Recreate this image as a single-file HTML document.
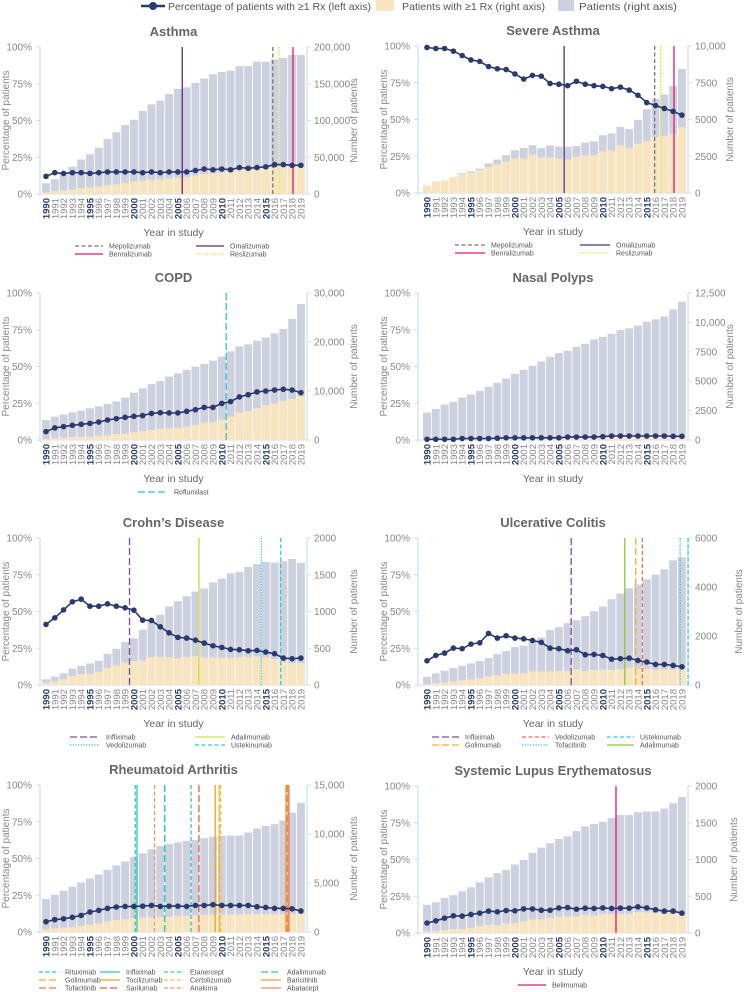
<!DOCTYPE html>
<html><head><meta charset="utf-8">
<style>
html,body{margin:0;padding:0;background:#fff;}
svg{display:block;font-family:"Liberation Sans",sans-serif;}
</style></head>
<body>
<svg id="chart" width="751" height="992" viewBox="0 0 751 992" xmlns="http://www.w3.org/2000/svg">
  <g>
    <g>
      <line x1="141" y1="6" x2="165" y2="6" stroke="#2b3a6e" stroke-width="2.5"/>
      <circle cx="153" cy="6" r="4" fill="#2b3a6e"/>
      <text x="168" y="10" font-size="10.5" fill="#555" textLength="203" lengthAdjust="spacingAndGlyphs">Percentage of patients with ≥1 Rx (left axis)</text>
    </g>
    <g>
      <rect x="376" y="0" width="18" height="11" fill="#f9e4c0"/>
      <text x="402" y="10" font-size="10.5" fill="#555" textLength="143" lengthAdjust="spacingAndGlyphs">Patients with ≥1 Rx (right axis)</text>
    </g>
    <g>
      <rect x="558" y="0" width="16" height="11" fill="#cdd0df"/>
      <text x="579" y="10" font-size="10.5" fill="#555" textLength="98" lengthAdjust="spacingAndGlyphs">Patients (right axis)</text>
    </g>
  </g>
</svg>
<script>
const years = [1990,1991,1992,1993,1994,1995,1996,1997,1998,1999,2000,2001,2002,2003,2004,2005,2006,2007,2008,2009,2010,2011,2012,2013,2014,2015,2016,2017,2018,2019];

const asthmaTotal = [14600,20000,28000,37000,47000,54000,63000,75000,84000,94000,101000,113000,122000,127000,136000,143000,145000,151000,157000,163000,166000,168000,174000,174000,180000,180000,183000,185000,189000,189000];
const asthmaRx = [2000,4000,5000,6000,8000,9000,10000,12000,13000,15000,17000,18000,19000,20000,21000,22000,23000,25000,27000,28000,29000,30000,32000,32000,33000,34000,36000,37000,37000,37000];
const asthmaPct = [12,14.5,14,14.5,14.5,14,14.5,15,15,15,15,14.5,15,14.5,15,15,15,16,17,16.5,17,16.5,18,17.5,18,18.5,20,20,19.5,19.5];
const asthmaTicks = ["0","50,000","100,000","150,000","200,000"];

const severeTotal = [500,770,860,1090,1360,1480,1660,2020,2270,2570,2910,3070,3250,3050,3230,3160,3140,3200,3430,3520,3930,4050,4500,4360,4980,5700,6410,6700,7270,8430];
const severeRx = [500,770,860,1090,1320,1390,1550,1770,1950,2140,2340,2340,2610,2410,2410,2340,2270,2480,2550,2570,2840,2890,3250,3050,3360,3520,3800,3860,4000,4480];
const severePct = [99,98.3,98.3,96.5,93.5,90.5,89.5,86,84.5,84,81,77.5,80,79.5,74.5,74,73,76,74,73,72.5,71,72,70,66.5,61.5,59.5,57.5,55.5,53];
const severeTicks = ["0","2500","5000","7500","10,000"];

const copdTotal = [4080,4760,5170,5650,5990,6460,6870,7350,7890,8640,9660,10540,11430,12040,12930,13610,14350,14970,15510,16190,17010,18100,19120,19520,20270,20950,21770,22650,24690,27760];
const copdRx = [200,340,480,610,680,680,820,950,1220,1290,1560,1840,2040,2310,2380,2520,2720,3060,3540,3610,4150,4760,5650,5920,6530,7140,7480,7960,8370,8910];
const copdPct = [5.7,8.2,9.1,10,10.7,11.3,12.2,13.6,14.5,15.4,16.1,16.6,18.1,18.6,18.4,18.4,19.5,20.6,22.2,22.2,24.9,26.1,29.3,30.8,32.7,33.3,34,34.5,34,32.2];
const copdTicks = ["0","10,000","20,000","30,000"];

const nasalTotal = [2330,2640,3010,3240,3610,3860,4180,4520,4860,5230,5630,5970,6310,6680,7070,7390,7590,7930,8180,8550,8780,9030,9350,9490,9740,10060,10260,10510,11110,11760];
const nasalRx = [12,13,15,16,36,39,42,45,58,78,84,90,95,100,106,111,152,159,164,171,202,244,252,256,263,272,277,284,278,294];
const nasalPct = [0.5,0.5,0.5,0.5,1,1,1,1,1.2,1.5,1.5,1.5,1.5,1.5,1.5,1.5,2,2,2,2,2.3,2.7,2.7,2.7,2.7,2.7,2.7,2.7,2.5,2.5];
const nasalTicks = ["0","2500","5000","7500","10,000","12,500"];

const crohnTotal = [77,113,158,222,262,294,330,425,493,584,633,751,860,955,1068,1140,1208,1271,1312,1394,1448,1520,1538,1606,1643,1674,1665,1683,1715,1661];
const crohnRx = [27,50,77,122,149,154,181,231,267,303,326,335,380,380,380,362,380,389,376,376,371,371,380,380,389,376,353,312,299,299];
const crohnPct = [41.2,45.7,51.1,56.6,58.4,53.6,53.6,55.2,53.6,52.5,50.9,44.1,43.9,39.6,35.5,32.4,31.9,30.5,28.5,26.7,25.6,24.2,24,23.3,23.5,22.4,21.3,18.3,17.9,18.3];
const crohnTicks = ["0","500","1000","1500","2000"];

const ucTotal = [340,475,584,692,787,882,977,1099,1262,1384,1547,1601,1778,1941,2239,2361,2524,2646,2809,3012,3202,3501,3731,3948,4098,4315,4505,4722,5088,5210];
const ucRx = [41,81,109,149,190,231,272,366,394,461,475,489,556,556,556,570,584,638,570,611,624,611,651,706,665,665,624,624,638,638];
const ucPct = [16.5,20.1,21.7,25.1,24.7,27.8,28.7,35.1,31.9,33.5,31.9,31.4,30.3,29,25.1,24.7,23.3,24,20.6,20.8,20.1,17.6,17.9,18.3,16.7,15.6,14,14,13.3,12.4];
const ucTicks = ["0","2000","4000","6000"];

const raTotal = [3360,3800,4210,4620,5060,5460,5870,6350,6790,7190,7640,8040,8450,8760,8990,9130,9300,9400,9570,9740,9810,9840,9840,10150,10550,10830,11000,11370,12180,13200];
const raRx = [270,370,440,480,610,750,880,1090,1220,1320,1390,1460,1490,1530,1560,1630,1660,1700,1760,1800,1800,1800,1800,1830,1830,1830,1800,1830,1870,1830];
const raPct = [7,8.4,9,10,11.3,13.6,14.7,16.1,17,17.4,17.4,17.6,18.1,17.4,17.6,17.6,17.4,18.1,18.1,18.6,18.1,18.1,18.1,18.1,17.2,16.7,16.1,16.1,15.8,14.3];
const raTicks = ["0","5,000","10,000","15,000"];

const sleTotal = [383,419,477,514,568,622,689,757,815,856,932,995,1090,1162,1221,1279,1315,1387,1450,1482,1514,1563,1604,1604,1644,1653,1653,1694,1766,1851];
const sleRx = [23,27,41,54,54,72,95,113,108,131,135,162,185,185,203,221,225,225,248,239,257,257,261,257,284,279,270,261,261,239];
const slePct = [6.8,8.3,10.1,11.7,11.5,12.6,13.5,14.9,14.4,15.3,15.1,16.4,16.4,15.5,15.5,17.1,17.3,16.2,16.9,16.7,17.1,16.7,16.9,16.9,17.8,17.1,15.8,14.9,14.9,13.5];
const sleTicks = ["0","500","1000","1500","2000"];

const pctTicks = ["0%","25%","50%","75%","100%"];

const NS = "http://www.w3.org/2000/svg";
const svg = document.getElementById("chart");
function mk(tag, attrs, parent){
  const e = document.createElementNS(NS, tag);
  for (const k in attrs) e.setAttribute(k, attrs[k]);
  (parent||svg).appendChild(e);
  return e;
}
const DASH = {solid:"", dash:"4,2.5", long:"7,3", dot:"1.2,1.5"};

function panel(cfg){
  const g = mk("g", {});
  
  
  const top = cfg.top, h = 147, bottom = top + h;
  const xL = cfg.axL, xR = cfg.axR;
  const x0 = cfg.c0, step = 8.79;
  const xc = i => x0 + i*step;
  const xYear = f => x0 + f*step;
  const yP = v => bottom - h*v/100;
  const yN = v => bottom - h*v/cfg.max;

  const t = mk("text", {x:(xL+xR)/2, y:top-11, "text-anchor":"middle", "font-size":"13", "font-weight":"bold", fill:"#666"}, g);
  t.textContent = cfg.title;
  
  

  const al = mk("line", {x1:xL, y1:top, x2:xL, y2:bottom+2, stroke:"#d3dcec", "stroke-width":"1.2"}, g);
  
  
  const ar = mk("line", {x1:xR, y1:top, x2:xR, y2:bottom, stroke:"#d3dcec", "stroke-width":"1.2"}, g);
  
  
  mk("line", {x1:xL, y1:bottom, x2:xR, y2:bottom, stroke:"#d3dcec", "stroke-width":"1"}, g);

  pctTicks.forEach((lab, i) => {
    const y = bottom - h*i/(pctTicks.length-1);
    mk("line", {x1:xL-4, y1:y, x2:xL, y2:y, stroke:"#d3dcec"}, g);
    const tx = mk("text", {x:xL-8, y:y+3.5, "text-anchor":"end", "font-size":"10", fill:"#888"}, g);
    tx.textContent = lab;
    
    
  });
  cfg.ticks.forEach((lab, i) => {
    const y = bottom - h*i/(cfg.ticks.length-1);
    mk("line", {x1:xR, y1:y, x2:xR+4, y2:y, stroke:"#d3dcec"}, g);
    const tx = mk("text", {x:xR+7, y:y+3.5, "font-size":"10", fill:"#888"}, g);
    tx.textContent = lab;
    
    
  });
  const lt = mk("text", {x:0, y:0, transform:`translate(${xL-31},${top+h/2}) rotate(-90)`, "text-anchor":"middle", "font-size":"10", fill:"#888"}, g);
  lt.textContent = "Percentage of patients";
  
  
  const rt = mk("text", {x:0, y:0, transform:`translate(${cfg.rtX},${top+h/2}) rotate(-90)`, "text-anchor":"middle", "font-size":"10", fill:"#888"}, g);
  rt.textContent = "Number of patients";
  
  

  const bw = 7.9;
  cfg.total.forEach((v, i) => {
    const b = mk("rect", {x:xc(i)-bw/2, y:yN(v), width:bw, height:bottom-yN(v), fill:"#cdd0df"}, g);
    
    
  });
  cfg.rx.forEach((v, i) => {
    const b = mk("rect", {x:xc(i)-bw/2, y:yN(v), width:bw, height:bottom-yN(v), fill:"#f9e4c0"}, g);
    
    
  });

  years.forEach((yr, i) => {
    const bold = yr % 5 === 0;
    const tx = mk("text", {x:0, y:0, transform:`translate(${xc(i)+3.5},${bottom+4}) rotate(-90)`, "text-anchor":"end", "font-size":"9.5", fill: bold ? "#2b3a6e" : "#888", "font-weight": bold ? "bold" : "normal"}, g);
    tx.textContent = yr;
    
    
  });
  if (!cfg.noXTitle) {
    const xt = mk("text", {x:(xL+xR)/2, y:bottom+42, "text-anchor":"middle", "font-size":"10.5", fill:"#666"}, g);
    xt.textContent = "Year in study";
    
    
  }

  cfg.lines.forEach(d => {
    const x = xYear(d.yr);
    const l = mk("line", {x1:x, y1:top, x2:x, y2:bottom, stroke:d.color, "stroke-width":d.w||1.3, "stroke-dasharray":DASH[d.dash]}, g);
    
    
  });

  let dStr = "";
  cfg.pct.forEach((v, i) => { dStr += (i ? "L" : "M") + xc(i).toFixed(1) + "," + yP(v).toFixed(1); });
  const pl = mk("path", {d:dStr, fill:"none", stroke:"#2b3a6e", "stroke-width":"1.6"}, g);
  
  
  cfg.pct.forEach((v, i) => {
    const c = mk("circle", {cx:xc(i), cy:yP(v), r:2.8, fill:"#2b3a6e"}, g);
    
    
  });

  const legTop = bottom + (cfg.legOff || 52);
  cfg.lines.forEach(d => {
    const lx = cfg.legX[d.col], ly = legTop + d.row*8;
    const lg = mk("g", {}, g);
    
    
    mk("line", {x1:lx, y1:ly, x2:lx+cfg.legW, y2:ly, stroke:d.color, "stroke-width":1.3, "stroke-dasharray":DASH[d.dash]}, lg);
    const tx = mk("text", {x:lx+cfg.legW+6, y:ly+2.5, "font-size":"7", fill:"#555"}, lg);
    tx.textContent = d.label;
  });
}

const L = {axL:40, axR:307, c0:46, rtX:357};
const R = {axL:418, axR:688, c0:427, rtX:733};

panel(Object.assign({}, L, {name:"asthma", title:"Asthma", top:47, max:200000, ticks:asthmaTicks, total:asthmaTotal, rx:asthmaRx, pct:asthmaPct,
  legX:[75,196], legW:28,
  lines:[
    {label:"Mepolizumab", yr:25.8, color:"#777", dash:"dash", col:0, row:0},
    {label:"Benralizumab", yr:28.1, color:"#e0186e", dash:"solid", col:0, row:1},
    {label:"Omalizumab", yr:15.5, color:"#5b2a7a", dash:"solid", col:1, row:0},
    {label:"Reslizumab", yr:26.5, color:"#d8e23a", dash:"dot", col:1, row:1, w:1.6}
  ]}));
panel(Object.assign({}, R, {name:"severe-asthma", title:"Severe Asthma", top:46, max:10000, ticks:severeTicks, total:severeTotal, rx:severeRx, pct:severePct,
  legX:[455,580], legW:30,
  lines:[
    {label:"Mepolizumab", yr:25.9, color:"#777", dash:"dash", col:0, row:0},
    {label:"Benralizumab", yr:28.1, color:"#e0186e", dash:"solid", col:0, row:1},
    {label:"Omalizumab", yr:15.6, color:"#5b2a7a", dash:"solid", col:1, row:0},
    {label:"Reslizumab", yr:26.6, color:"#d8e23a", dash:"dot", col:1, row:1, w:1.6}
  ]}));
panel(Object.assign({}, L, {name:"copd", title:"COPD", top:293, max:30000, ticks:copdTicks, total:copdTotal, rx:copdRx, pct:copdPct,
  legX:[138], legW:30,
  lines:[{label:"Roflumilast", yr:20.5, color:"#2bc4d8", dash:"long", col:0, row:0}]}));
panel(Object.assign({}, R, {name:"nasal-polyps", title:"Nasal Polyps", top:293, max:12500, ticks:nasalTicks, total:nasalTotal, rx:nasalRx, pct:nasalPct,
  legX:[455], legW:30, lines:[]}));
panel(Object.assign({}, L, {name:"crohns", title:"Crohn’s Disease", top:538, max:2000, ticks:crohnTicks, total:crohnTotal, rx:crohnRx, pct:crohnPct,
  legX:[70,195], legW:30,
  lines:[
    {label:"Infliximab", yr:9.5, color:"#7a4e96", dash:"long", col:0, row:0},
    {label:"Vedolizumab", yr:24.5, color:"#2bc4d8", dash:"dot", col:0, row:1},
    {label:"Adalimumab", yr:17.4, color:"#d2e04a", dash:"solid", col:1, row:0, w:1.6},
    {label:"Ustekinumab", yr:26.7, color:"#2bd0c8", dash:"dash", col:1, row:1}
  ]}));
panel(Object.assign({}, R, {name:"ulcerative-colitis", title:"Ulcerative Colitis", top:538, max:6000, ticks:ucTicks, total:ucTotal, rx:ucRx, pct:ucPct, rtX:742,
  legX:[432,522,607], legW:27,
  lines:[
    {label:"Infliximab", yr:16.4, color:"#7a4e96", dash:"long", col:0, row:0},
    {label:"Golimumab", yr:23.75, color:"#f0b030", dash:"long", col:0, row:1},
    {label:"Vedolizumab", yr:24.5, color:"#f07040", dash:"dash", col:1, row:0},
    {label:"Tofacitinib", yr:28.8, color:"#2bc4c0", dash:"dot", col:1, row:1},
    {label:"Ustekinumab", yr:29.7, color:"#2bd0c8", dash:"dash", col:2, row:0},
    {label:"Adalimumab", yr:22.5, color:"#8cc63f", dash:"solid", col:2, row:1}
  ]}));
panel(Object.assign({}, L, {name:"rheumatoid-arthritis", title:"Rheumatoid Arthritis", top:785, max:15000, ticks:raTicks, total:raTotal, rx:raRx, pct:raPct,
  noXTitle:true, legOff:40,
  legX:[39,100,164,261], legW:20,
  lines:[
    {label:"Rituximab", yr:10.15, color:"#2bc9b4", dash:"dash", col:0, row:0},
    {label:"Golimumab", yr:19.7, color:"#f0b030", dash:"long", col:0, row:1},
    {label:"Tofacitinib", yr:27.4, color:"#f07a50", dash:"long", col:0, row:2},
    {label:"Infliximab", yr:10.35, color:"#2bc9b4", dash:"solid", col:1, row:0},
    {label:"Tocilizumab", yr:19.25, color:"#f0a020", dash:"solid", col:1, row:1},
    {label:"Sarilumab", yr:17.4, color:"#e8603a", dash:"long", col:1, row:2},
    {label:"Etanercept", yr:16.5, color:"#2bc9c4", dash:"dash", col:2, row:0},
    {label:"Certolizumab", yr:19.8, color:"#f5c040", dash:"dash", col:2, row:1, w:2.5},
    {label:"Anakinra", yr:12.35, color:"#f09070", dash:"dash", col:2, row:2},
    {label:"Adalimumab", yr:13.5, color:"#3cc8b0", dash:"long", col:3, row:0, w:1.6},
    {label:"Baricitinib", yr:27.3, color:"#f0a020", dash:"solid", col:3, row:1},
    {label:"Abatacept", yr:27.6, color:"#e8906a", dash:"solid", col:3, row:2, w:2.2}
  ]}));
panel(Object.assign({}, R, {name:"sle", title:"Systemic Lupus Erythematosus", top:786, max:2000, ticks:sleTicks, total:sleTotal, rx:sleRx, pct:slePct, rtX:737,
  legX:[518], legW:28,
  lines:[{label:"Belimumab", yr:21.5, color:"#e0186e", dash:"solid", col:0, row:0}]}));
</script>
</body></html>
